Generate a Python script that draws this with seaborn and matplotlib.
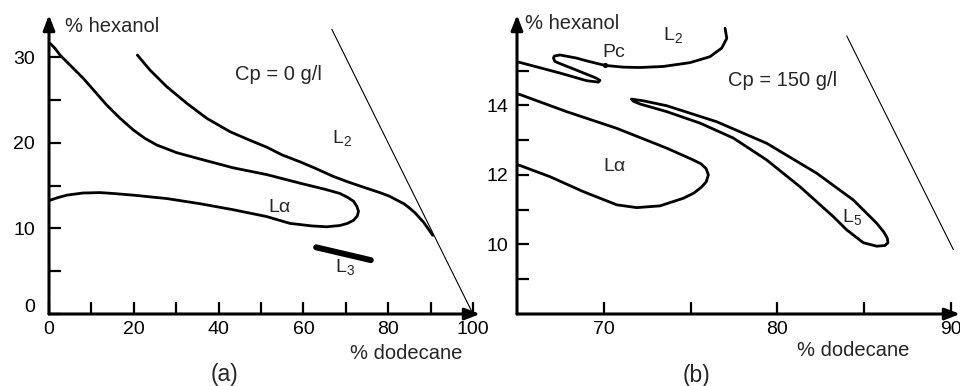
import matplotlib
matplotlib.use("Agg")
import matplotlib.pyplot as plt
from matplotlib.transforms import ScaledTranslation
import seaborn as sns
import pandas as pd

# ---------------- data ----------------
# Panel (a): Cp = 0 g/l
a_la_x = [0.24, 1.42, 2.59, 4.95, 8.09, 10.85, 13.6, 16.75, 19.9, 22.6, 25.4, 30.1, 35.6, 43.4, 51.4,
          59.2, 65.0, 68.6, 70.4, 71.8, 72.6, 73.0, 72.7, 71.8, 70.4, 68.6, 65.5, 62.0, 56.8, 51.3,
          43.4, 35.6, 27.8, 19.9, 15.0, 12.0, 8.0, 4.2, 2.0, 0.2]
a_la_y = [31.66, 31.07, 30.29, 29.12, 27.56, 26.0, 24.44, 22.89, 21.52, 20.55, 19.77, 18.87, 18.13, 17.1, 16.3,
          15.3, 14.6, 14.1, 13.65, 13.2, 12.6, 12.0, 11.45, 10.95, 10.6, 10.35, 10.2, 10.3, 10.6, 11.4,
          12.2, 12.9, 13.5, 13.9, 14.1, 14.2, 14.15, 13.9, 13.6, 13.3]
a_l2_x = [20.83, 23.8, 27.76, 32.5, 37.2, 42.7, 47.0, 51.4, 55.0, 59.2, 63.0, 67.0, 70.5, 73.35, 78.07,
          80.2, 82.0, 83.7, 85.1, 86.4, 87.5, 88.4, 89.1, 90.5]
a_l2_y = [30.29, 28.54, 26.59, 24.64, 22.89, 21.32, 20.4, 19.5, 18.6, 17.8, 17.0, 16.1, 15.45, 14.97, 14.19,
          13.8, 13.33, 12.9, 12.36, 11.8, 11.19, 10.7, 10.2, 9.2]
a_l3_x = [63.0, 75.9]
a_l3_y = [7.8, 6.3]
a_diag_x = [66.7, 100.0]
a_diag_y = [33.3, 0.0]

# Panel (b): Cp = 150 g/l
b_l2_x = [76.99, 77.09, 76.8, 76.12, 74.97, 73.43, 72.09, 71.13, 70.07, 69.02, 68.44, 67.48, 67.15,
          67.1, 67.19, 68.4, 69.59, 69.78, 69.69, 69.02, 67.48, 64.98]
b_l2_y = [16.22, 15.93, 15.65, 15.4, 15.23, 15.12, 15.09, 15.1, 15.15, 15.28, 15.36, 15.45, 15.42,
          15.36, 15.26, 15.02, 14.78, 14.72, 14.67, 14.71, 14.93, 15.26]
b_la_x = [65.07, 67.86, 70.75, 73.63, 75.16, 75.6, 75.9, 76.03, 75.9, 75.65, 75.2, 74.59, 73.24, 71.9,
          70.75, 68.82, 66.9, 65.07]
b_la_y = [14.33, 13.82, 13.34, 12.77, 12.43, 12.32, 12.18, 12.0, 11.8, 11.66, 11.48, 11.33, 11.11, 11.06,
          11.14, 11.52, 11.95, 12.29]
b_l5_x = [71.61, 72.3, 73.63, 76.51, 79.39, 82.27, 84.38, 85.73, 86.15, 86.34, 86.38, 86.2, 85.73,
          84.96, 84.0, 83.23, 81.31, 79.39, 77.47, 75.55, 73.63, 72.09, 71.7, 71.61]
b_l5_y = [14.18, 14.13, 13.99, 13.53, 12.91, 12.05, 11.28, 10.61, 10.35, 10.18, 10.05, 9.97, 9.95,
          10.05, 10.42, 10.80, 11.66, 12.43, 13.06, 13.49, 13.82, 14.04, 14.12, 14.18]
b_diag_x = [84.0, 90.15]
b_diag_y = [16.0, 9.85]
b_pc_x = [70.07]
b_pc_y = [15.15]

a_xticks_major = [0, 20, 40, 60, 80, 100]
a_xticks_minor = [10, 30, 50, 70, 90]
a_yticks_major = [0, 10, 20, 30]
a_yticks_minor = [5, 15, 25]
b_xticks_major = [70, 80, 90]
b_xticks_minor = [75, 85]
b_yticks_major = [10, 12, 14]
b_yticks_minor = [9, 11, 13, 15]

# ---------------- style ----------------
sns.set_theme(style="white")
plt.rcParams["font.family"] = ["Liberation Sans", "DejaVu Sans"]
plt.rcParams["mathtext.fontset"] = "custom"
plt.rcParams["mathtext.rm"] = "Liberation Sans"
plt.rcParams["mathtext.it"] = "Liberation Sans"

FS = 14.5
TFS = 14
LW = 2.0

fig = plt.figure(figsize=(9.6, 3.86), dpi=100)
axA = fig.add_axes([49 / 960, 72 / 386, 431 / 960, 299 / 386])
axB = fig.add_axes([517 / 960, 72 / 386, 443 / 960, 299 / 386])


def curve(ax, xs, ys, lw=LW, **kw):
    df = pd.DataFrame({"x": xs, "y": ys})
    sns.lineplot(data=df, x="x", y="y", sort=False, estimator=None, ax=ax,
                 color="black", lw=lw, solid_joinstyle="round", solid_capstyle="round", **kw)


def setup(ax, xlim, ylim, xmaj, xmin, ymaj, ymin, ypad):
    ax.set_facecolor("none")
    ax.set_xlim(*xlim)
    ax.set_ylim(*ylim)
    for s in ax.spines.values():
        s.set_visible(False)
    ax.set_xticks(xmaj)
    ax.set_xticks(xmin, minor=True)
    ax.set_yticks(ymaj)
    ax.set_yticks(ymin, minor=True)
    ax.set_xticklabels([str(v) for v in xmaj])
    ax.set_yticklabels([str(v) for v in ymaj])
    ax.tick_params(which="both", direction="in", length=8.5, width=1.6, color="black",
                   bottom=True, left=True, top=False, right=False)
    ax.tick_params(axis="x", which="major", labelsize=TFS, pad=5, labelcolor="black")
    ax.tick_params(axis="y", which="major", labelsize=TFS, pad=ypad, labelcolor="black")
    ap = dict(arrowstyle="-|>,head_length=0.9,head_width=0.35", lw=2.2, color="black",
              shrinkA=0, shrinkB=0, mutation_scale=10)
    ax.annotate("", xy=(1, 0), xytext=(0, 0), xycoords="axes fraction",
                textcoords="axes fraction", arrowprops=ap, annotation_clip=False)
    ax.annotate("", xy=(0, 1), xytext=(0, 0), xycoords="axes fraction",
                textcoords="axes fraction", arrowprops=ap, annotation_clip=False)


# ---------------- panel (a) ----------------
setup(axA, (0, 101.65), (0, 34.97), a_xticks_major, a_xticks_minor,
      a_yticks_major, a_yticks_minor, 10)
curve(axA, a_la_x, a_la_y)
curve(axA, a_l2_x, a_l2_y)
curve(axA, a_l3_x, a_l3_y, lw=4.3)
curve(axA, a_diag_x, a_diag_y, lw=0.8)
axA.set_xlabel("")
axA.set_ylabel("")

axA.text(3.8, 33.6, "% hexanol", fontsize=FS, ha="left", va="center")
axA.text(43.9, 28.0, "Cp = 0 g/l", fontsize=FS, ha="left", va="center")
axA.text(66.7, 20.6, r"$\mathregular{L_2}$", fontsize=TFS, ha="left", va="center")
axA.text(51.7, 12.5, "Lα", fontsize=TFS, ha="left", va="center")
axA.text(67.5, 5.5, r"$\mathregular{L_3}$", fontsize=TFS, ha="left", va="center")
axA.text(71.0, -4.6, "% dodecane", fontsize=FS, ha="left", va="center")
axA.text(41.3, -7.1, "(a)", fontsize=16.5, ha="center", va="center")

# ---------------- panel (b) ----------------
setup(axB, (65, 90.53), (8, 16.6), b_xticks_major, b_xticks_minor,
      b_yticks_major, b_yticks_minor, 6.5)
curve(axB, b_l2_x, b_l2_y)
curve(axB, b_la_x, b_la_y)
curve(axB, b_l5_x, b_l5_y)
curve(axB, b_diag_x, b_diag_y, lw=0.8)
sns.scatterplot(x=b_pc_x, y=b_pc_y, ax=axB, color="black", s=14, edgecolor="black", linewidth=0)
axB.set_xlabel("")
axB.set_ylabel("")

axB.text(65.46, 16.35, "% hexanol", fontsize=FS, ha="left", va="center")
axB.text(73.4, 16.03, r"$\mathregular{L_2}$", fontsize=TFS, ha="left", va="center")
axB.text(69.9, 15.51, "Pc", fontsize=TFS, ha="left", va="center")
axB.text(77.16, 14.73, "Cp = 150 g/l", fontsize=FS, ha="left", va="center")
axB.text(69.96, 12.23, "Lα", fontsize=TFS, ha="left", va="center")
axB.text(83.73, 10.79, r"$\mathregular{L_5}$", fontsize=TFS, ha="left", va="center")
axB.text(81.14, 6.96, "% dodecane", fontsize=FS, ha="left", va="center")
axB.text(75.37, 6.24, "(b)", fontsize=16.5, ha="center", va="center")

# the "0" label on the hexanol axis of panel (a) sits a little above the axis
t0 = axA.yaxis.get_major_ticks()[0].label1
t0.set_transform(t0.get_transform() + ScaledTranslation(0, 9 / 100, fig.dpi_scale_trans))

fig.savefig("out.png", dpi=100, facecolor="white")
